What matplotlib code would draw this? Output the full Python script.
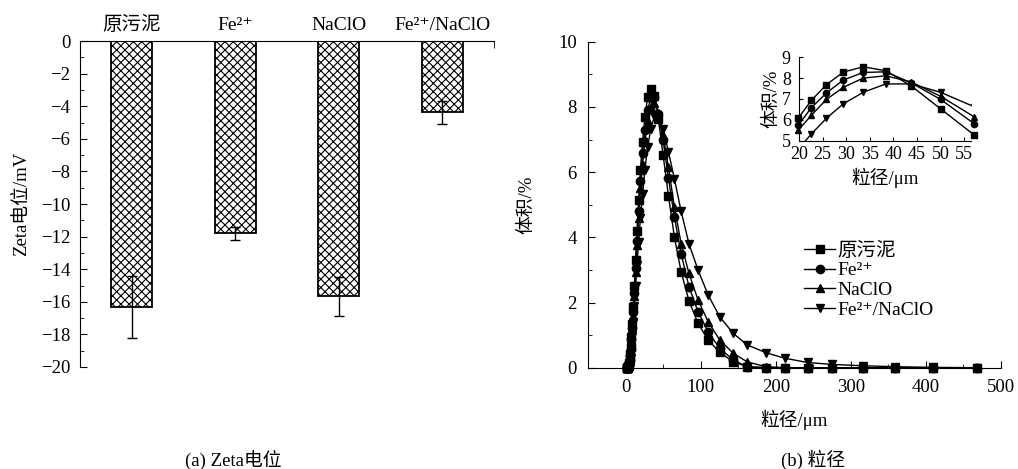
import matplotlib.pyplot as plt
from matplotlib.ticker import MultipleLocator

plt.rcParams['font.family'] = ['Liberation Serif', 'DejaVu Serif', 'Noto Sans CJK SC']
plt.rcParams['hatch.linewidth'] = 0.8

# (a) Zeta potential
groups = ['原污泥', 'Fe²⁺', 'NaClO', 'Fe²⁺/NaClO']
zeta = [-16.3, -11.8, -15.65, -4.38]
zeta_err = [1.9, 0.38, 1.2, 0.68]

# (b) particle size distribution
size = [1.6, 1.9, 2.1, 2.4, 2.8, 3.2, 3.6, 4.1, 4.7, 5.3, 6.1, 6.9, 7.9, 9.0,
        10.3, 11.7, 13.4, 15.2, 17.4, 19.8, 22.6, 25.8, 29.4, 33.6, 38.4, 43.8,
        50.0, 57.1, 65.0, 74.0, 84.5, 96.5, 110.0, 125.5, 143.5, 162.0, 187.0,
        212.0, 242.5, 275.0, 316.0, 359.5, 410.0, 468.5]
raw = [0, 0, 0, 0, 0.01, 0.02, 0.04, 0.08, 0.15, 0.26, 0.42, 0.64, 0.95, 1.35,
       1.85, 2.5, 3.3, 4.2, 5.15, 6.08, 6.93, 7.69, 8.29, 8.54, 8.35, 7.62,
       6.53, 5.28, 4.02, 2.94, 2.05, 1.36, 0.85, 0.47, 0.18, 0.03, 0,
       0, 0, 0, 0, 0, 0, 0]
fe = [0, 0, 0, 0, 0, 0.01, 0.03, 0.07, 0.13, 0.23, 0.38, 0.58, 0.87, 1.23,
      1.7, 2.3, 3.05, 3.9, 4.8, 5.74, 6.58, 7.29, 7.91, 8.27, 8.30, 7.77,
      6.98, 5.82, 4.63, 3.5, 2.48, 1.72, 1.1, 0.59, 0.24, 0.03, 0,
      0, 0, 0, 0, 0, 0, 0]
naclo = [0, 0, 0, 0, 0, 0.01, 0.02, 0.05, 0.11, 0.2, 0.33, 0.52, 0.8, 1.15,
         1.6, 2.2, 2.95, 3.75, 4.6, 5.5, 6.22, 6.98, 7.56, 8.0, 8.11, 7.81,
         7.13, 6.15, 4.94, 3.81, 2.89, 2.08, 1.41, 0.85, 0.44, 0.18, 0.03,
         0, 0, 0, 0, 0, 0, 0]
fe_naclo = [0, 0, 0, 0, 0, 0.01, 0.02, 0.05, 0.1, 0.18, 0.3, 0.46, 0.7, 1.0,
            1.4, 1.9, 2.5, 3.15, 3.85, 4.6, 5.32, 6.08, 6.77, 7.32, 7.72, 7.72,
            7.32, 6.63, 5.8, 4.8, 3.8, 3.0, 2.23, 1.56, 1.05, 0.7, 0.46,
            0.29, 0.16, 0.1, 0.06, 0.03, 0.01, 0]
series = [('原污泥', raw, 's'), ('Fe²⁺', fe, 'o'),
          ('NaClO', naclo, '^'), ('Fe²⁺/NaClO', fe_naclo, 'v')]

fs = 13.5
fig = plt.figure(figsize=(10.18, 4.69), dpi=100)

# ---- left panel
ax1 = fig.add_axes([0.0786, 0.2175, 0.4067, 0.695])
pos = range(len(groups))
ax1.bar(pos, zeta, width=0.4, color='white', edgecolor='black',
        linewidth=1.3, hatch='xxxx')
ax1.errorbar(pos, zeta, yerr=zeta_err, fmt='none', ecolor='black',
             elinewidth=1, capsize=3.5, capthick=1)
ax1.set_xlim(-0.5, 3.5)
ax1.set_ylim(-20, 0)
ax1.spines['bottom'].set_visible(False)
ax1.spines['right'].set_visible(False)
ax1.xaxis.tick_top()
ax1.set_xticks(list(pos))
ax1.set_xticklabels(groups, fontsize=14)
ax1.tick_params(axis='x', which='major', length=0, pad=5)
ax1.set_xticks([3.5], minor=True)
ax1.tick_params(axis='x', which='minor', direction='in', length=5)
ax1.yaxis.set_major_locator(MultipleLocator(2))
ax1.yaxis.set_minor_locator(MultipleLocator(1))
ax1.tick_params(axis='y', which='major', direction='in', length=5,
                labelsize=fs, pad=7)
ax1.tick_params(axis='y', which='minor', direction='in', length=3)
ax1.set_ylabel('Zeta电位/mV', fontsize=fs, labelpad=8)
fig.text(0.229, 0.006, '(a) Zeta电位', fontsize=fs, ha='center')

# ---- right panel
ax2 = fig.add_axes([0.5776, 0.216, 0.4057, 0.695])
for name, vals, mk in series:
    ax2.plot(size, vals, color='black', marker=mk, markersize=6,
             linewidth=1, label=name, clip_on=False)
ax2.set_xlim(-50, 500)
ax2.set_ylim(0, 10)
ax2.spines['top'].set_visible(False)
ax2.spines['right'].set_visible(False)
ax2.xaxis.set_major_locator(MultipleLocator(100))
ax2.xaxis.set_minor_locator(MultipleLocator(50))
ax2.yaxis.set_major_locator(MultipleLocator(2))
ax2.yaxis.set_minor_locator(MultipleLocator(1))
ax2.tick_params(which='major', direction='in', length=5, labelsize=fs, pad=8)
ax2.tick_params(which='minor', direction='in', length=3)
ax2.set_xlabel('粒径/μm', fontsize=fs, labelpad=10)
ax2.set_ylabel('体积/%', fontsize=fs, labelpad=16)
ax2.legend(loc='upper left', bbox_to_anchor=(0.505, 0.41), frameon=False,
           fontsize=14, handlelength=1.6, handletextpad=0.1,
           labelspacing=0.1, borderaxespad=0)
fig.text(0.799, 0.006, '(b) 粒径', fontsize=fs, ha='center')

# ---- inset
ax3 = fig.add_axes([0.785, 0.70, 0.169, 0.178])
for name, vals, mk in series:
    xs = [x for x in size if 19 < x < 58]
    ys = [v for x, v in zip(size, vals) if 19 < x < 58]
    ax3.plot(xs, ys, color='black', marker=mk, markersize=4.5,
             linewidth=1, clip_on=(mk == 'v'))
ax3.set_xlim(20, 56.5)
ax3.set_ylim(5, 9)
ax3.spines['top'].set_visible(False)
ax3.spines['right'].set_visible(False)
ax3.xaxis.set_major_locator(MultipleLocator(5))
ax3.yaxis.set_major_locator(MultipleLocator(1))
ax3.tick_params(direction='in', length=3, labelsize=13)
ax3.tick_params(axis='x', pad=4)
ax3.tick_params(axis='y', pad=6)
ax3.set_xlabel('粒径/μm', fontsize=fs, labelpad=3)
ax3.set_ylabel('体积/%', fontsize=fs, labelpad=1)

fig.savefig('out.png', dpi=100)
